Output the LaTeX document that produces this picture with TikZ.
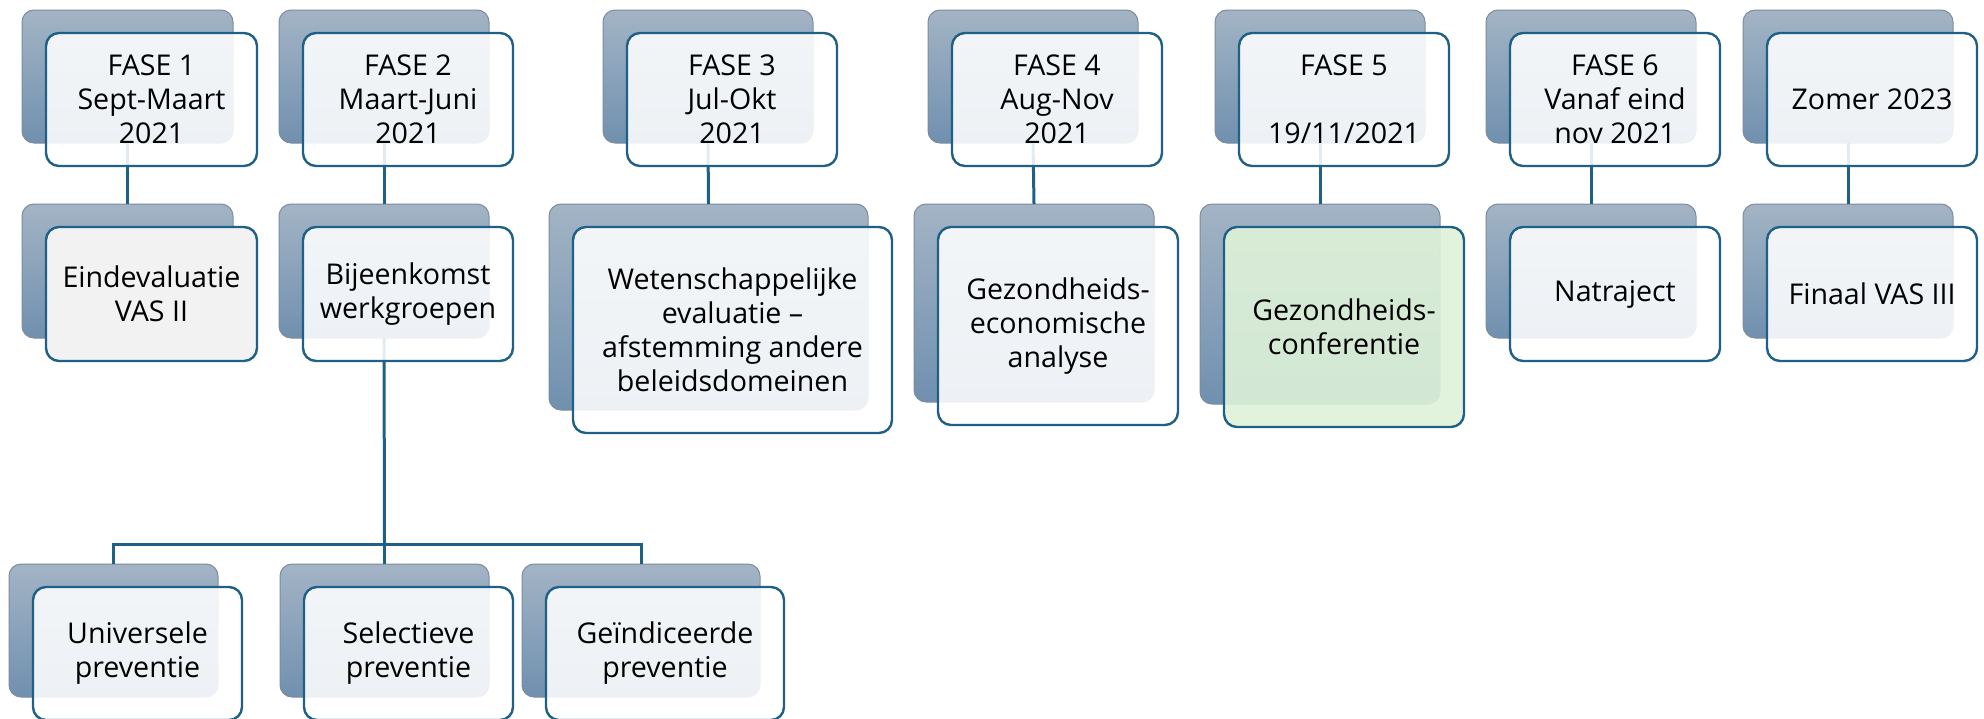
\documentclass[tikz,border=0pt]{standalone}
\usepackage{fontspec}
\setmainfont{Open Sans}
\definecolor{edgeblue}{RGB}{31,96,135}
\definecolor{backtop}{RGB}{163,180,197}
\definecolor{backbot}{RGB}{112,144,175}
\definecolor{backedge}{RGB}{125,140,156}
\definecolor{greyfill}{RGB}{242,242,242}
\definecolor{greenfill}{RGB}{222,242,216}
\newcommand{\backbx}[5]{\node[backbox, minimum width={(#4-#2)*0.5pt}, minimum height={(#5-#3)*0.5pt}] (#1) at ({(#2+#4)/2},{(#3+#5)/2}) {};}
\newcommand{\frontbx}[7]{\node[frontbox, #6, minimum width={(#4-#2)*0.5pt}, minimum height={(#5-#3)*0.5pt}] (#1) at ({(#2+#4)/2+24},{(#3+#5)/2+23}) {#7};}
\begin{document}
\begin{tikzpicture}[x=0.5pt,y=-0.5pt,
  backbox/.style={rectangle, rounded corners=6pt, draw=backedge, line width=0.5pt, top color=backtop, bottom color=backbot, inner sep=0pt, outer sep=0pt},
  frontbox/.style={rectangle, rounded corners=6.5pt, draw=edgeblue, line width=1.2pt, fill=white, fill opacity=0.88, text opacity=1, inner sep=0pt, outer sep=0pt, align=center, font=\fontsize{14.3pt}{17pt}\selectfont},
  greybox/.style={fill=greyfill, fill opacity=1},
  greenbox/.style={fill=greenfill, fill opacity=0.9},
  conn/.style={draw=edgeblue, line width=1.5pt}]
\useasboundingbox (0,0) rectangle (1984,718);
% back boxes
\backbx{a1b}{22}{10}{233}{143}
\backbx{a2b}{279}{10}{489}{143}
\backbx{a3b}{603}{10}{813}{143}
\backbx{a4b}{928}{10}{1138}{143}
\backbx{a5b}{1215}{10}{1425}{143}
\backbx{a6b}{1486}{10}{1696}{143}
\backbx{a7b}{1743}{10}{1953}{143}
\backbx{b1b}{22}{204}{233}{338}
\backbx{b2b}{279}{204}{489}{338}
\backbx{b3b}{549}{204}{868}{410}
\backbx{b4b}{914}{204}{1154}{402}
\backbx{b5b}{1200}{204}{1440}{404}
\backbx{b6b}{1486}{204}{1696}{338}
\backbx{b7b}{1743}{204}{1953}{338}
\backbx{c1b}{9}{564}{218}{697}
\backbx{c2b}{280}{564}{489}{697}
\backbx{c3b}{522}{564}{760}{697}
% connectors
\draw[conn] (a1b.south) -- (b1b.north);
\draw[conn] (a2b.south) -- (b2b.north);
\draw[conn] (a3b.south) -- (b3b.north);
\draw[conn] (a4b.south) -- (b4b.north);
\draw[conn] (a5b.south) -- (b5b.north);
\draw[conn] (a6b.south) -- (b6b.north);
\draw[conn] (a7b.south) -- (b7b.north);
\coordinate (junc) at (384.5,544);
\draw[conn] (b2b.south) -- (junc);
\draw[conn] (c1b.north) |- (junc) -| (c3b.north);
\draw[conn] (junc) -- (c2b.north);
% front boxes
\frontbx{a1f}{22}{10}{233}{143}{}{FASE 1\\Sept-Maart\\2021}
\frontbx{a2f}{279}{10}{489}{143}{}{FASE 2\\Maart-Juni\\2021}
\frontbx{a3f}{603}{10}{813}{143}{}{FASE 3\\Jul-Okt\\2021}
\frontbx{a4f}{928}{10}{1138}{143}{}{FASE 4\\Aug-Nov\\2021}
\frontbx{a5f}{1215}{10}{1425}{143}{}{FASE 5\\\strut\\19/11/2021}
\frontbx{a6f}{1486}{10}{1696}{143}{}{FASE 6\\Vanaf eind\\nov 2021}
\frontbx{a7f}{1743}{10}{1953}{143}{}{Zomer 2023}
\frontbx{b1f}{22}{204}{233}{338}{greybox}{Eindevaluatie\\VAS II}
\frontbx{b2f}{279}{204}{489}{338}{}{Bijeenkomst\\werkgroepen}
\frontbx{b3f}{549}{204}{868}{410}{}{Wetenschappelijke\\evaluatie --\\afstemming andere\\beleidsdomeinen}
\frontbx{b4f}{914}{204}{1154}{402}{}{Gezondheids-\\economische\\analyse}
\frontbx{b5f}{1200}{204}{1440}{404}{greenbox}{Gezondheids-\\conferentie}
\frontbx{b6f}{1486}{204}{1696}{338}{}{Natraject}
\frontbx{b7f}{1743}{204}{1953}{338}{}{Finaal VAS III}
\frontbx{c1f}{9}{564}{218}{697}{}{Universele\\preventie}
\frontbx{c2f}{280}{564}{489}{697}{}{Selectieve\\preventie}
\frontbx{c3f}{522}{564}{760}{697}{}{Geïndiceerde\\preventie}
\end{tikzpicture}
\end{document}
